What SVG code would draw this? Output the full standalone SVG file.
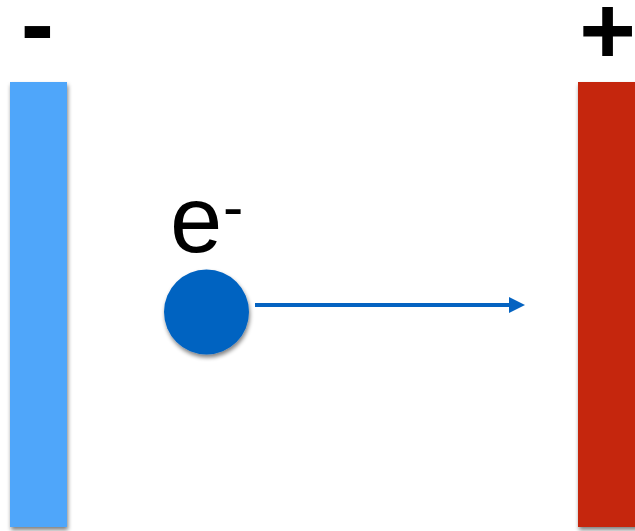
<svg xmlns="http://www.w3.org/2000/svg" width="635" height="531" viewBox="0 0 635 531">
<style>
.sign{font-family:"Liberation Sans",Arial,sans-serif;font-weight:bold;fill:#000}
.lbl{font-family:"Liberation Sans",Arial,sans-serif;fill:#000}
</style>
<defs>
<filter id="sh" x="-20%" y="-20%" width="150%" height="150%">
<feGaussianBlur in="SourceAlpha" stdDeviation="2"/>
<feOffset dx="1" dy="3" result="b"/>
<feComponentTransfer><feFuncA type="linear" slope="0.5"/></feComponentTransfer>
<feMerge><feMergeNode/><feMergeNode in="SourceGraphic"/></feMerge>
</filter>
<marker id="ah" markerWidth="16" markerHeight="16" refX="2" refY="8" orient="auto" markerUnits="userSpaceOnUse">
<path d="M0,0 L16,8 L0,16 Z" fill="#0563C1"/>
</marker>
</defs>
<rect width="635" height="531" fill="#fff"/>
<g id="negative-plate">
<rect x="10" y="82" width="57" height="445" fill="#4FA6FA" filter="url(#sh)"/>
<text class="sign" x="37.5" y="58" font-size="100" text-anchor="middle">-</text>
</g>
<g id="positive-plate">
<rect x="578" y="82" width="60" height="445" fill="#C52608" filter="url(#sh)"/>
<text class="sign" x="607.5" y="64" font-size="97" text-anchor="middle">+</text>
</g>
<g id="electron">
<circle cx="206.5" cy="312" r="42.5" fill="#0563C1" filter="url(#sh)"/>
<text class="lbl" x="170" y="252" font-size="94">e</text>
<text class="lbl" x="223" y="228" font-size="61">-</text>
</g>
<g id="connectors">
<line x1="255" y1="305" x2="511" y2="305" stroke="#0563C1" stroke-width="4" marker-end="url(#ah)"/>
</g>
</svg>
